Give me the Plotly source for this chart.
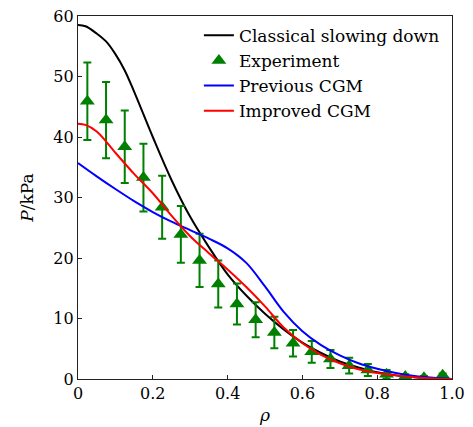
import plotly.graph_objects as go

# ---- data ----
rho_classical = [0.00, 0.02, 0.05, 0.075, 0.10, 0.125, 0.15, 0.20, 0.25, 0.30, 0.35, 0.40,
                 0.45, 0.50, 0.55, 0.60, 0.65, 0.70, 0.75, 0.80, 0.85, 0.90, 0.95, 1.00]
p_classical = [58.5, 58.3, 57.1, 55.8, 53.7, 51.0, 47.5, 40.0, 32.9, 26.8, 21.8, 17.3,
               13.8, 10.8, 8.2, 6.0, 4.3, 2.9, 1.9, 1.1, 0.6, 0.3, 0.1, 0.0]

rho_improved = [0.00, 0.02, 0.05, 0.10, 0.15, 0.20, 0.25, 0.30, 0.35, 0.40, 0.45,
                0.50, 0.55, 0.60, 0.65, 0.70, 0.75, 0.80, 0.85, 0.90, 0.95, 1.00]
p_improved = [42.2, 42.0, 40.9, 37.4, 33.9, 30.7, 27.0, 23.6, 20.8, 18.1, 15.2,
              12.0, 8.5, 5.9, 4.0, 2.6, 1.6, 1.0, 0.6, 0.3, 0.1, 0.0]

rho_previous = [0.00, 0.05, 0.10, 0.15, 0.20, 0.25, 0.30, 0.35, 0.40, 0.45, 0.50,
                0.55, 0.60, 0.65, 0.70, 0.75, 0.80, 0.85, 0.90, 0.95, 1.00]
p_previous = [35.7, 33.5, 31.4, 29.4, 27.6, 26.0, 24.6, 23.2, 21.6, 19.2, 15.3,
              11.1, 7.9, 5.6, 3.9, 2.6, 1.7, 1.0, 0.5, 0.2, 0.0]

rho_exp = [0.025, 0.075, 0.125, 0.175, 0.225, 0.275, 0.325, 0.375, 0.425, 0.475,
           0.525, 0.575, 0.625, 0.675, 0.725, 0.775, 0.825, 0.875, 0.925, 0.975]
p_exp = [45.9, 42.8, 38.4, 33.3, 28.4, 23.9, 19.6, 15.7, 12.4, 9.8,
         7.7, 5.9, 4.5, 3.3, 2.2, 1.5, 0.8, 0.4, 0.2, 0.6]
err_exp = [6.4, 6.3, 6.0, 5.6, 5.2, 4.7, 4.4, 3.9, 3.4, 2.9,
           2.6, 2.2, 1.8, 1.5, 1.3, 1.0, 0.7, 0.4, 0.3, 0.3]

x_tickvals = [0, 0.2, 0.4, 0.6, 0.8, 1.0]
x_ticktext = ["0", "0.2", "0.4", "0.6", "0.8", "1.0"]
y_tickvals = [0, 10, 20, 30, 40, 50, 60]

FONT = "DejaVu Serif"

fig = go.Figure()
fig.add_trace(go.Scatter(x=rho_classical, y=p_classical, mode="lines",
                         line=dict(color="#000000", width=2, shape="spline", smoothing=1.0),
                         name="Classical slowing down"))
fig.add_trace(go.Scatter(x=rho_exp, y=p_exp, mode="markers",
                         marker=dict(symbol="triangle-up", size=13, color="#008000"),
                         error_y=dict(type="data", array=err_exp, visible=True,
                                      color="#008000", thickness=2, width=4),
                         name="Experiment"))
fig.add_trace(go.Scatter(x=rho_previous, y=p_previous, mode="lines",
                         line=dict(color="#0000ff", width=2, shape="spline", smoothing=1.0),
                         name="Previous CGM"))
fig.add_trace(go.Scatter(x=rho_improved, y=p_improved, mode="lines",
                         line=dict(color="#ff0000", width=2, shape="spline", smoothing=1.0),
                         name="Improved CGM"))

axis_common = dict(showline=True, linecolor="#222222", linewidth=1.3, mirror=True,
                   ticks="inside", ticklen=4, tickwidth=1, tickcolor="#222222",
                   showgrid=False, zeroline=False, automargin=False,
                   ticklabeloverflow="allow",
                   tickfont=dict(family=FONT, size=16, color="black"))

fig.update_xaxes(range=[0, 1], tickvals=x_tickvals, ticktext=x_ticktext,
                 title=dict(text="<i>ρ</i>", font=dict(family=FONT, size=17, color="black"),
                            standoff=6),
                 **axis_common)
fig.update_yaxes(range=[0, 60], tickvals=y_tickvals,
                 title=dict(text="<i>P</i>/kPa", font=dict(family=FONT, size=17, color="black"),
                            standoff=15),
                 **axis_common)

# the page body adds an 8px offset, so the figure is sized to fit the 473x427 window
fig.update_layout(
    width=465, height=419,
    margin=dict(l=70, r=21, t=8, b=48),
    plot_bgcolor="white", paper_bgcolor="white",
    font=dict(family=FONT, size=16, color="black"),
    showlegend=True,
    legend=dict(x=0.981, y=0.995, xanchor="right", yanchor="top",
                bgcolor="rgba(255,255,255,0)", borderwidth=0,
                font=dict(family=FONT, size=17, color="black"),
                itemwidth=30, tracegroupgap=0),
)

fig.write_html("out.html")
